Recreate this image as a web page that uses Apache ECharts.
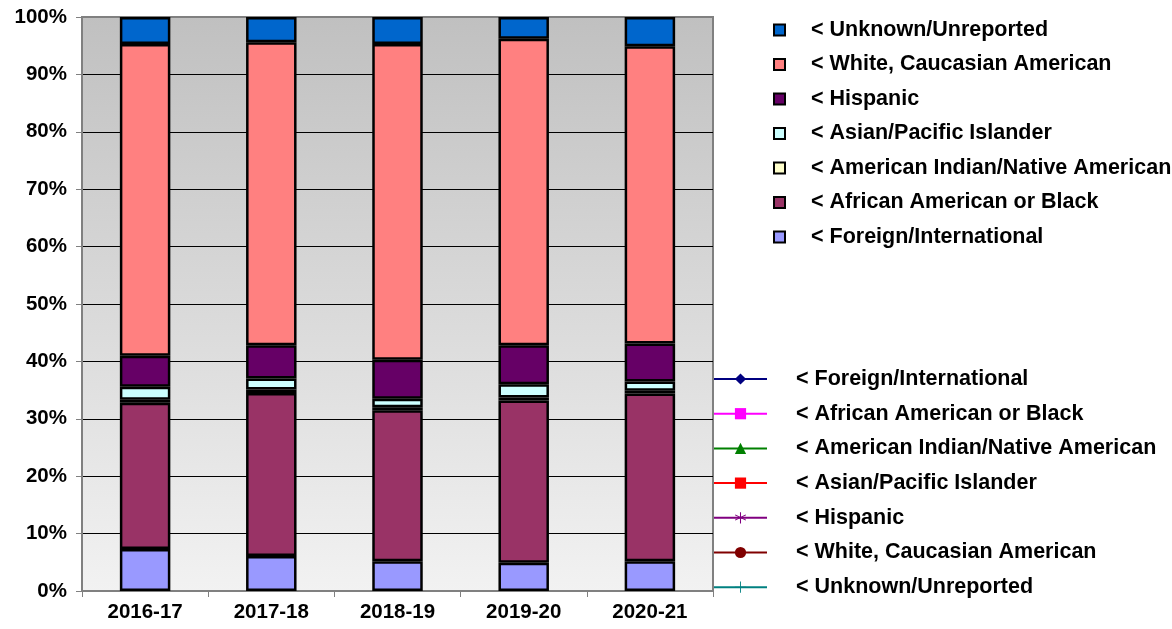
<!DOCTYPE html>
<html>
<head>
<meta charset="utf-8">
<script src="https://cdn.jsdelivr.net/npm/echarts@6/dist/echarts.min.js"></script>
<style>
html,body{margin:0;padding:0;background:#fff;}
#chart{width:1172px;height:629px;}
</style>
</head>
<body>
<div id="chart"></div>
<script>
const categories = ['2016-17', '2017-18', '2018-19', '2019-20', '2020-21'];
const foreign   = [7.3, 6.1, 5.2, 4.9, 5.2];
const african   = [25.5, 28.4, 26.3, 28.3, 29.2];
const amIndian  = [0.5, 0.6, 0.5, 0.5, 0.5];
const asian     = [2.3, 1.9, 1.5, 2.3, 1.6];
const hispanic  = [5.4, 5.8, 6.8, 6.8, 6.6];
const white     = [54.3, 52.8, 55.0, 53.4, 51.8];
const unknown   = [4.7, 4.4, 4.7, 3.8, 5.1];
const yTicks = [0, 10, 20, 30, 40, 50, 60, 70, 80, 90, 100];

const groups = [
  { name: '< Foreign/International', data: foreign, color: '#9999FF', lineColor: '#000080', symbol: 'diamond' },
  { name: '< African American or Black', data: african, color: '#993366', lineColor: '#FF00FF', symbol: 'rect' },
  { name: '< American Indian/Native American', data: amIndian, color: '#FFFFCC', lineColor: '#008000', symbol: 'triangle' },
  { name: '< Asian/Pacific Islander', data: asian, color: '#CCFFFF', lineColor: '#FF0000', symbol: 'path://M2,2L8,2L8,8L2,8Z' },
  { name: '< Hispanic', data: hispanic, color: '#660066', lineColor: '#800080',
    symbol: 'path://M4.6,0L5.4,0L5.4,4.1L8.9,2.1L9.3,2.8L5.8,4.8L9.3,6.8L8.9,7.5L5.4,5.5L5.4,10L4.6,10L4.6,5.5L1.1,7.5L0.7,6.8L4.2,4.8L0.7,2.8L1.1,2.1L4.6,4.1Z' },
  { name: '< White, Caucasian American', data: white, color: '#FF8080', lineColor: '#800000', symbol: 'circle' },
  { name: '< Unknown/Unreported', data: unknown, color: '#0066CC', lineColor: '#008080',
    symbol: 'path://M4.6,0L5.4,0L5.4,4.6L10,4.6L10,5.4L5.4,5.4L5.4,10L4.6,10L4.6,5.4L0,5.4L0,4.6L4.6,4.6Z' }
];

const font = 'Liberation Sans, Arial, sans-serif';
const series = [];
groups.forEach(g => {
  series.push({
    name: g.name, type: 'bar', stack: 'total', barWidth: '40%',
    data: g.data,
    itemStyle: { color: g.color, borderColor: '#000', borderWidth: 2.5 },
    emphasis: { disabled: true }
  });
});
groups.forEach(g => {
  series.push({
    name: 'L:' + g.name, type: 'line', data: [],
    symbol: g.symbol, symbolSize: 10,
    lineStyle: { color: g.lineColor, width: 2 },
    itemStyle: { color: g.lineColor }
  });
});

const chart = echarts.init(document.getElementById('chart'));
chart.setOption({
  animation: false,
  backgroundColor: '#fff',
  grid: {
    left: 82, right: 459, top: 17, bottom: 38, show: true,
    borderColor: '#808080', borderWidth: 2,
    backgroundColor: {
      type: 'linear', x: 0, y: 0, x2: 0, y2: 1,
      colorStops: [{ offset: 0, color: '#C0C0C0' }, { offset: 1, color: '#F2F2F2' }]
    }
  },
  xAxis: {
    type: 'category', data: categories,
    axisLine: { lineStyle: { color: '#808080', width: 2 } },
    axisTick: { show: true, length: 6, lineStyle: { color: '#808080', width: 1 } },
    axisLabel: { color: '#000', fontWeight: 'bold', fontSize: 20.5, fontFamily: font, margin: 11 }
  },
  yAxis: {
    type: 'value', min: 0, max: 100, interval: 10,
    axisLine: { show: true, lineStyle: { color: '#808080', width: 2 } },
    axisTick: { show: true, length: 6, lineStyle: { color: '#808080' } },
    splitLine: { show: true, showMaxLine: false, showMinLine: false, lineStyle: { color: '#000', width: 1 } },
    axisLabel: {
      color: '#000', fontWeight: 'bold', fontSize: 20.5, fontFamily: font, margin: 15,
      formatter: v => yTicks.includes(v) ? v + '%' : ''
    }
  },
  legend: [
    {
      orient: 'vertical', left: 768, top: 14, itemGap: 12.5,
      itemWidth: 11, itemHeight: 11, icon: 'rect',
      selectedMode: false,
      itemStyle: { borderColor: '#000', borderWidth: 2 },
      textStyle: { color: '#000', fontWeight: 'bold', fontSize: 21.5, fontFamily: font, lineHeight: 20, padding: [0, 0, 0, 21] },
      data: groups.slice().reverse().map(g => g.name)
    },
    {
      orient: 'vertical', left: 708, top: 363, itemGap: 12.7,
      itemWidth: 53, itemHeight: 14,
      selectedMode: false,
      formatter: n => n.replace(/^L:/, ''),
      textStyle: { color: '#000', fontWeight: 'bold', fontSize: 21.5, fontFamily: font, lineHeight: 20, padding: [0, 0, 0, 24] },
      data: groups.map(g => 'L:' + g.name)
    }
  ],
  series: series
});
</script>
</body>
</html>
